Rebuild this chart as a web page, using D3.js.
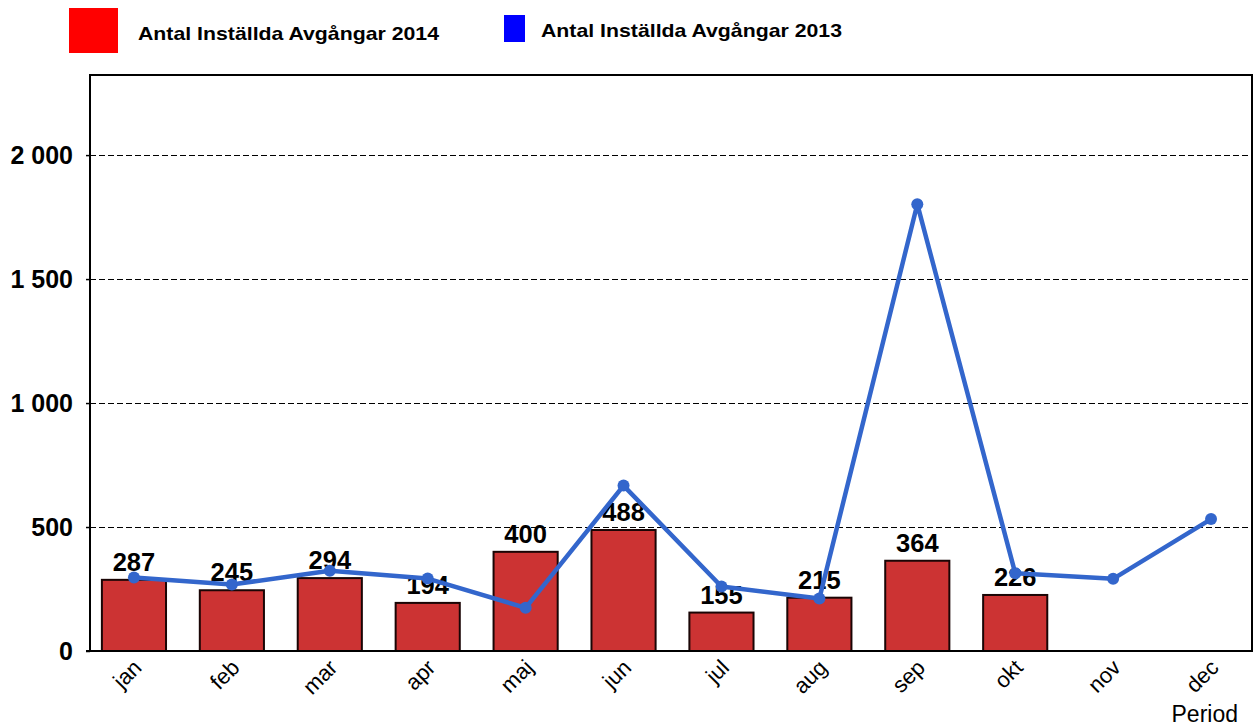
<!DOCTYPE html>
<html>
<head>
<meta charset="utf-8">
<script src="https://cdn.jsdelivr.net/npm/d3@7"></script>
<style>
  body { margin: 0; background: #fff; }
  svg { font-family: "Liberation Sans", Arial, sans-serif; }
</style>
</head>
<body>
<svg width="1257" height="726"></svg>
<script>
// months on the x axis
const months = ["jan", "feb", "mar", "apr", "maj", "jun", "jul", "aug", "sep", "okt", "nov", "dec"]
// cancelled departures 2014 (bars, only up to okt)
const values2014 = [287, 245, 294, 194, 400, 488, 155, 215, 364, 226]
// cancelled departures 2013 (line)
const values2013 = [296, 268, 324, 292, 174, 667, 260, 212, 1802, 314, 291, 532]
const yTicks = [0, 500, 1000, 1500, 2000]
const seriesNames = ["Antal Inställda Avgångar 2014", "Antal Inställda Avgångar 2013"]

const svg = d3.select("svg")

// plot frame
const frame = { left: 90, right: 1252, top: 75, bottom: 651 }

// x scale - bands run a bit past the frame like in the original
const xScale = d3.scaleBand()
    .domain(months)
    .range([85, 1260])
    .paddingInner(0.345)
    .paddingOuter(0.1725)

const yScale = d3.scaleLinear()
    .domain([0, 2323])
    .range([frame.bottom, frame.top])

const fmt = d => d3.format(",")(d).replace(/,/g, " ")

// dashed grid lines
svg.append("g")
    .selectAll("line")
    .data(yTicks.filter(d => d > 0))
    .join("line")
    .attr("x1", frame.left)
    .attr("x2", frame.right)
    .attr("y1", d => Math.round(yScale(d)) + 0.5)
    .attr("y2", d => Math.round(yScale(d)) + 0.5)
    .attr("stroke", "#000")
    .attr("stroke-width", 1)
    .attr("stroke-dasharray", "6,3")

// y axis labels + small ticks
const yAxis = svg.append("g")
    .attr("transform", `translate(${frame.left},0)`)
    .call(d3.axisLeft(yScale).tickValues(yTicks).tickSize(4).tickPadding(13).tickFormat(fmt))
yAxis.select(".domain").remove()
yAxis.selectAll("line").attr("stroke", "#000").attr("stroke-width", 1.5)
yAxis.selectAll("text")
    .attr("font-size", 25)
    .attr("font-weight", "bold")
    .attr("fill", "#000")
    .attr("font-family", "Liberation Sans, Arial, sans-serif")

// bars 2014
svg.append("g")
    .selectAll("rect")
    .data(values2014)
    .join("rect")
    .attr("x", (d, i) => xScale(months[i]))
    .attr("y", d => yScale(d))
    .attr("width", xScale.bandwidth())
    .attr("height", d => yScale(0) - yScale(d))
    .attr("fill", "#CC3333")
    .attr("stroke", "#1a0505")
    .attr("stroke-width", 2)

// bar value labels
svg.append("g")
    .selectAll("text")
    .data(values2014)
    .join("text")
    .attr("x", (d, i) => xScale(months[i]) + xScale.bandwidth() / 2)
    .attr("y", d => yScale(d) - 9)
    .attr("text-anchor", "middle")
    .attr("font-size", 25.5)
    .attr("font-weight", "bold")
    .text(d => d)

// frame
svg.append("rect")
    .attr("x", frame.left)
    .attr("y", frame.top)
    .attr("width", frame.right - frame.left)
    .attr("height", frame.bottom - frame.top)
    .attr("fill", "none")
    .attr("stroke", "#000")
    .attr("stroke-width", 2)
svg.append("line")
    .attr("x1", frame.left - 4).attr("x2", frame.left)
    .attr("y1", frame.bottom).attr("y2", frame.bottom)
    .attr("stroke", "#000").attr("stroke-width", 2)

// line 2013
const cx = m => xScale(m) + xScale.bandwidth() / 2
const line = d3.line()
    .x((d, i) => cx(months[i]))
    .y(d => yScale(d))

svg.append("path")
    .datum(values2013)
    .attr("d", line)
    .attr("fill", "none")
    .attr("stroke", "#3366CC")
    .attr("stroke-width", 4.5)
    .attr("stroke-linejoin", "round")

svg.append("g")
    .selectAll("circle")
    .data(values2013)
    .join("circle")
    .attr("cx", (d, i) => cx(months[i]))
    .attr("cy", d => yScale(d))
    .attr("r", 6)
    .attr("fill", "#3366CC")

// month labels, rotated
svg.append("g")
    .selectAll("text")
    .data(months)
    .join("text")
    .attr("transform", d => `translate(${cx(d) + 9},${frame.bottom + 18}) rotate(-45)`)
    .attr("text-anchor", "end")
    .attr("font-size", 22)
    .text(d => d)

// x axis title
svg.append("text")
    .attr("x", 1238)
    .attr("y", 722)
    .attr("text-anchor", "end")
    .attr("font-size", 23)
    .text("Period")

// legend
const legend = svg.append("g")
legend.append("rect").attr("x", 69).attr("y", 8).attr("width", 49).attr("height", 45).attr("fill", "#FF0000")
legend.append("text").attr("x", 138).attr("y", 40).attr("font-size", 19).attr("font-weight", "bold")
    .attr("textLength", 301).attr("lengthAdjust", "spacingAndGlyphs").text(seriesNames[0])
legend.append("rect").attr("x", 504).attr("y", 15).attr("width", 21).attr("height", 27).attr("fill", "#0000FF")
legend.append("text").attr("x", 541).attr("y", 37).attr("font-size", 19).attr("font-weight", "bold")
    .attr("textLength", 301).attr("lengthAdjust", "spacingAndGlyphs").text(seriesNames[1])
</script>
</body>
</html>
